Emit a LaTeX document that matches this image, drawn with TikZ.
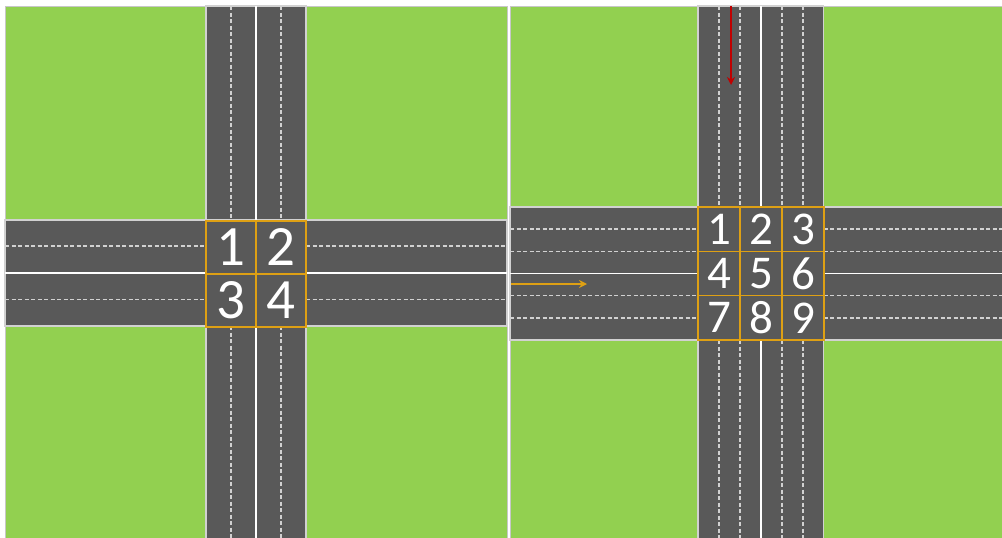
\documentclass[tikz,border=0pt]{standalone}
\usepackage{fontspec}
\setmainfont{Carlito}
\usetikzlibrary{arrows.meta}
\definecolor{grass}{RGB}{146,208,80}
\definecolor{asphalt}{RGB}{89,89,89}
\definecolor{boxgold}{RGB}{222,160,20}
\definecolor{markred}{RGB}{192,0,0}
\tikzset{
  field/.style={fill=grass,draw=black!22,line width=1pt},
  road/.style={fill=asphalt,draw=black!18,line width=1.2pt},
  lane line/.style={draw=black!18,line width=1.2pt,dash pattern=on 4pt off 2.5pt},
  centre line/.style={draw=white,line width=1.2pt},
  big cell/.style={draw=boxgold,line width=1.4pt,fill=asphalt,inner sep=0pt,
    outer sep=0pt,minimum width=50pt,minimum height=53pt,text=white,
    font=\fontsize{57}{57}\selectfont},
  small cell/.style={big cell,minimum width=42pt,minimum height=44.3pt,
    font=\fontsize{47}{47}\selectfont},
  flow arrow/.style={-{Stealth[length=8pt,width=8pt]},line width=1.6pt},
}

\begin{document}
\begin{tikzpicture}[x=1pt,y=-1pt]
  \fill[white] (0,0) rectangle (1002,538);
  \useasboundingbox (0,0) rectangle (1002,538);
  \clip (0,0) rectangle (1002,538);

  % Left crossing: two lanes each way
  \draw[field] (5,6) rectangle (507,545);
  \draw[road] (206,6) rectangle (306,545);
  \draw[road] (5,220) rectangle (507,326);
  \foreach \y/\z in {6/220,326/545} {
    \draw[lane line] (231,\y) -- (231,\z);
    \draw[lane line] (281,\y) -- (281,\z);
    \draw[centre line] (256,\y) -- (256,\z);
  }
  \foreach \a/\b in {5/206,306/507} {
    \draw[lane line] (\a,246) -- (\b,246);
    \draw[lane line] (\a,299.5) -- (\b,299.5);
    \draw[centre line] (\a,273) -- (\b,273);
  }
  \foreach \n/\x/\y in {1/231/247.5,2/281/247.5,3/231/300.5,4/281/300.5}
    \node[big cell] (l\n) at (\x,\y) {\n};

  % Right crossing: three lanes each way
  \draw[field] (510,6) rectangle (1010,545);
  \draw[road] (698,6) rectangle (823.5,545);
  \draw[road] (510,207) rectangle (1010,340);
  \foreach \y/\z in {6/207,340/545} {
    \foreach \x in {719,740,782,803}
      \draw[lane line] (\x,\y) -- (\x,\z);
    \draw[centre line] (761,\y) -- (761,\z);
  }
  \foreach \a/\b in {510/698,823.5/1010} {
    \foreach \y in {229,251.3,295.7,318}
      \draw[lane line] (\a,\y) -- (\b,\y);
    \draw[centre line] (\a,273.5) -- (\b,273.5);
  }
  \foreach \n/\x/\y in {1/719/229.2,2/761/229.2,3/803/229.2,
                        4/719/273.5,5/761/273.5,6/803/273.5,
                        7/719/317.8,8/761/317.8,9/803/317.8}
    \node[small cell] (r\n) at (\x,\y) {\n};

  % Arriving vehicles
  \coordinate (south start) at (731,6);
  \coordinate (south end) at (731,85);
  \draw[flow arrow,markred] (south start) -- (south end);
  \coordinate (east start) at (511,284);
  \coordinate (east end) at (587,284);
  \draw[flow arrow,boxgold] (east start) -- (east end);
\end{tikzpicture}
\end{document}
